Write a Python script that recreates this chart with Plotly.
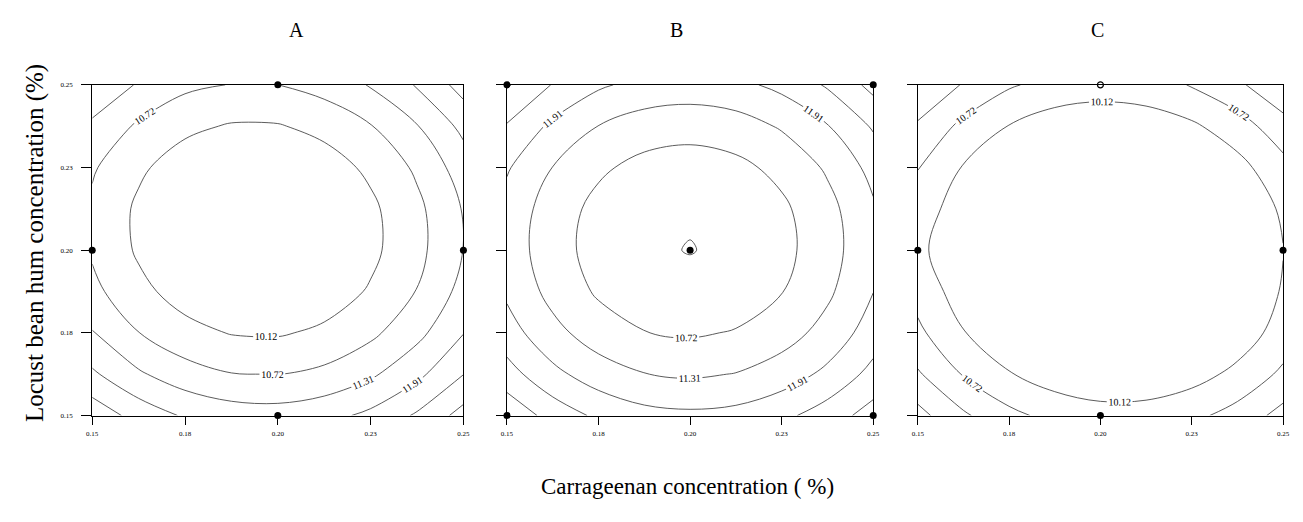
import plotly.graph_objects as go

# ---- data ----
carrageenan = [0.15, 0.1625, 0.175, 0.1875, 0.20, 0.2125, 0.225, 0.2375, 0.25]
locust = [0.15, 0.1625, 0.175, 0.1875, 0.20, 0.2125, 0.225, 0.2375, 0.25]
levels = [10.12, 10.72, 11.31, 11.91, 12.51, 13.10]
tick_vals = [0.15, 0.175, 0.20, 0.225, 0.25]
tick_text = ["0.15", "0.18", "0.20", "0.23", "0.25"]
panel_names = ["A", "B", "C"]

# response estimated at each grid node (rows follow locust, columns follow carrageenan)
z_A = [
    [12.90, 12.28, 11.84, 11.61, 11.56, 11.71, 12.05, 12.59, 13.32],
    [12.01, 11.39, 10.97, 10.74, 10.71, 10.86, 11.21, 11.76, 12.50],
    [11.34, 10.73, 10.31, 10.09, 10.06, 10.23, 10.59, 11.14, 11.89],
    [10.88, 10.28, 9.87, 9.66, 9.64, 9.81, 10.18, 10.74, 11.50],
    [10.64, 10.04, 9.64, 9.44, 9.43, 9.61, 9.98, 10.55, 11.32],
    [10.61, 10.02, 9.63, 9.43, 9.43, 9.62, 10.00, 10.58, 11.35],
    [10.79, 10.22, 9.83, 9.64, 9.65, 9.85, 10.24, 10.82, 11.60],
    [11.19, 10.63, 10.25, 10.07, 10.08, 10.29, 10.69, 11.28, 12.07],
    [11.81, 11.25, 10.85, 10.70, 10.718, 10.95, 11.35, 11.96, 12.75],
]
z_B = [
    [13.54, 12.87, 12.39, 12.11, 12.03, 12.10, 12.36, 12.80, 13.35],
    [12.75, 12.07, 11.60, 11.32, 11.23, 11.33, 11.60, 12.05, 12.70],
    [12.17, 11.49, 11.01, 10.73, 10.65, 10.76, 11.05, 11.52, 12.20],
    [11.80, 11.12, 10.64, 10.36, 10.28, 10.39, 10.70, 11.20, 11.90],
    [11.64, 10.97, 10.49, 10.21, 10.10, 10.24, 10.55, 11.06, 11.77],
    [11.70, 11.02, 10.55, 10.27, 10.18, 10.30, 10.61, 11.12, 11.83],
    [11.97, 11.30, 10.82, 10.54, 10.45, 10.57, 10.88, 11.39, 12.10],
    [12.46, 11.78, 11.30, 11.02, 10.94, 11.05, 11.37, 11.88, 12.58],
    [13.16, 12.48, 12.00, 11.72, 11.64, 11.75, 12.07, 12.58, 13.28],
]
z_C = [
    [12.11, 11.40, 10.88, 10.53, 10.36, 10.38, 10.57, 10.95, 11.51],
    [11.38, 10.68, 10.16, 9.82, 9.66, 9.68, 9.89, 10.27, 10.84],
    [10.85, 10.15, 9.64, 9.31, 9.16, 9.19, 9.40, 9.79, 10.37],
    [10.50, 9.83, 9.33, 9.00, 8.86, 8.90, 9.12, 9.52, 10.18],
    [10.25, 9.71, 9.21, 8.90, 8.77, 8.81, 9.04, 9.45, 10.10],
    [10.45, 9.79, 9.30, 9.00, 8.87, 8.93, 9.16, 9.58, 10.22],
    [10.74, 10.08, 9.60, 9.30, 9.18, 9.25, 9.49, 9.92, 10.53],
    [11.22, 10.57, 10.10, 9.80, 9.70, 9.77, 10.02, 10.45, 11.07],
    [11.90, 11.26, 10.79, 10.51, 10.41, 10.49, 10.75, 11.19, 11.82],
]
z_panels = [z_A, z_B, z_C]

# experimental design points
pts_A_x = [0.20, 0.15, 0.25, 0.20]
pts_A_y = [0.25, 0.20, 0.20, 0.15]
pts_B_x = [0.15, 0.25, 0.15, 0.25, 0.20]
pts_B_y = [0.25, 0.25, 0.15, 0.15, 0.20]
pts_C_x = [0.15, 0.25, 0.20]
pts_C_y = [0.20, 0.20, 0.15]
open_C_x = [0.20]
open_C_y = [0.25]

SERIF = "Liberation Serif"
OFF = 8                      # page body margin of the written html
W, H = 1303 - 2 * OFF, 522 - 2 * OFF


def px(xp):
    return (xp - OFF) / W


def py(yp):
    return 1 - (yp - OFF) / H


fig = go.Figure()
domains = [(px(87), px(462)), (px(506), px(876)), (px(921), px(1290))]
ydom = (py(418), py(82))
title_x = [px(293), px(677), px(1103)]

for i, p in enumerate(panel_names):
    ax = "" if i == 0 else str(i + 1)
    for lv in levels:
        fig.add_trace(go.Contour(
            x=carrageenan, y=locust, z=z_panels[i],
            autocontour=False,
            contours=dict(start=lv, end=lv, size=1, coloring="none", showlabels=True,
                          labelfont=dict(family=SERIF, size=10, color="black"),
                          labelformat=".2f"),
            line=dict(color="#4a4a4a", width=0.9, smoothing=1),
            showscale=False, hoverinfo="skip",
            xaxis="x" + ax, yaxis="y" + ax,
        ))
    fig.update_layout(**{
        "xaxis" + ax: dict(domain=domains[i], range=[0.15, 0.25], showline=True, mirror=True,
                           linecolor="black", linewidth=1, ticks="outside", ticklen=8,
                           tickcolor="black", tickvals=tick_vals, ticktext=tick_text,
                           tickfont=dict(family=SERIF, size=7, color="black"),
                           ticklabelstandoff=3,
                           showgrid=False, zeroline=False, anchor="y" + ax),
        "yaxis" + ax: dict(domain=ydom, range=[0.15, 0.25], showline=True, mirror=True,
                           linecolor="black", linewidth=1, ticks="outside", ticklen=10,
                           tickcolor="black", tickvals=tick_vals, ticktext=tick_text,
                           showticklabels=(i == 0), ticklabelstandoff=7,
                           tickfont=dict(family=SERIF, size=7, color="black"),
                           showgrid=False, zeroline=False, anchor="x" + ax),
    })

for xs, ys, ax in [(pts_A_x, pts_A_y, ""), (pts_B_x, pts_B_y, "2"), (pts_C_x, pts_C_y, "3")]:
    fig.add_trace(go.Scatter(x=xs, y=ys, mode="markers", cliponaxis=False,
                             marker=dict(color="black", size=7),
                             xaxis="x" + ax, yaxis="y" + ax, hoverinfo="skip"))
fig.add_trace(go.Scatter(x=open_C_x, y=open_C_y, mode="markers", cliponaxis=False,
                         marker=dict(color="white", size=6, line=dict(color="black", width=1.2)),
                         xaxis="x3", yaxis="y3", hoverinfo="skip"))

ann = []
for i, p in enumerate(panel_names):
    ann.append(dict(text=p, x=title_x[i], y=py(26), xref="paper", yref="paper", showarrow=False,
                    xanchor="center", yanchor="middle",
                    font=dict(family=SERIF, size=20, color="black")))
ann.append(dict(text="Carrageenan concentration ( %)", x=px(688), y=py(490), xref="paper",
                yref="paper", showarrow=False, xanchor="center", yanchor="middle",
                font=dict(family=SERIF, size=23, color="black")))
ann.append(dict(text="Locust bean hum concentration (%)", x=px(30), y=py(243), xref="paper",
                yref="paper", showarrow=False, textangle=-90, xanchor="center", yanchor="middle",
                font=dict(family=SERIF, size=25, color="black")))

fig.update_layout(width=W, height=H, margin=dict(l=0, r=0, t=0, b=0),
                  paper_bgcolor="white", plot_bgcolor="white", showlegend=False,
                  annotations=ann)
fig.write_html("out.html")
